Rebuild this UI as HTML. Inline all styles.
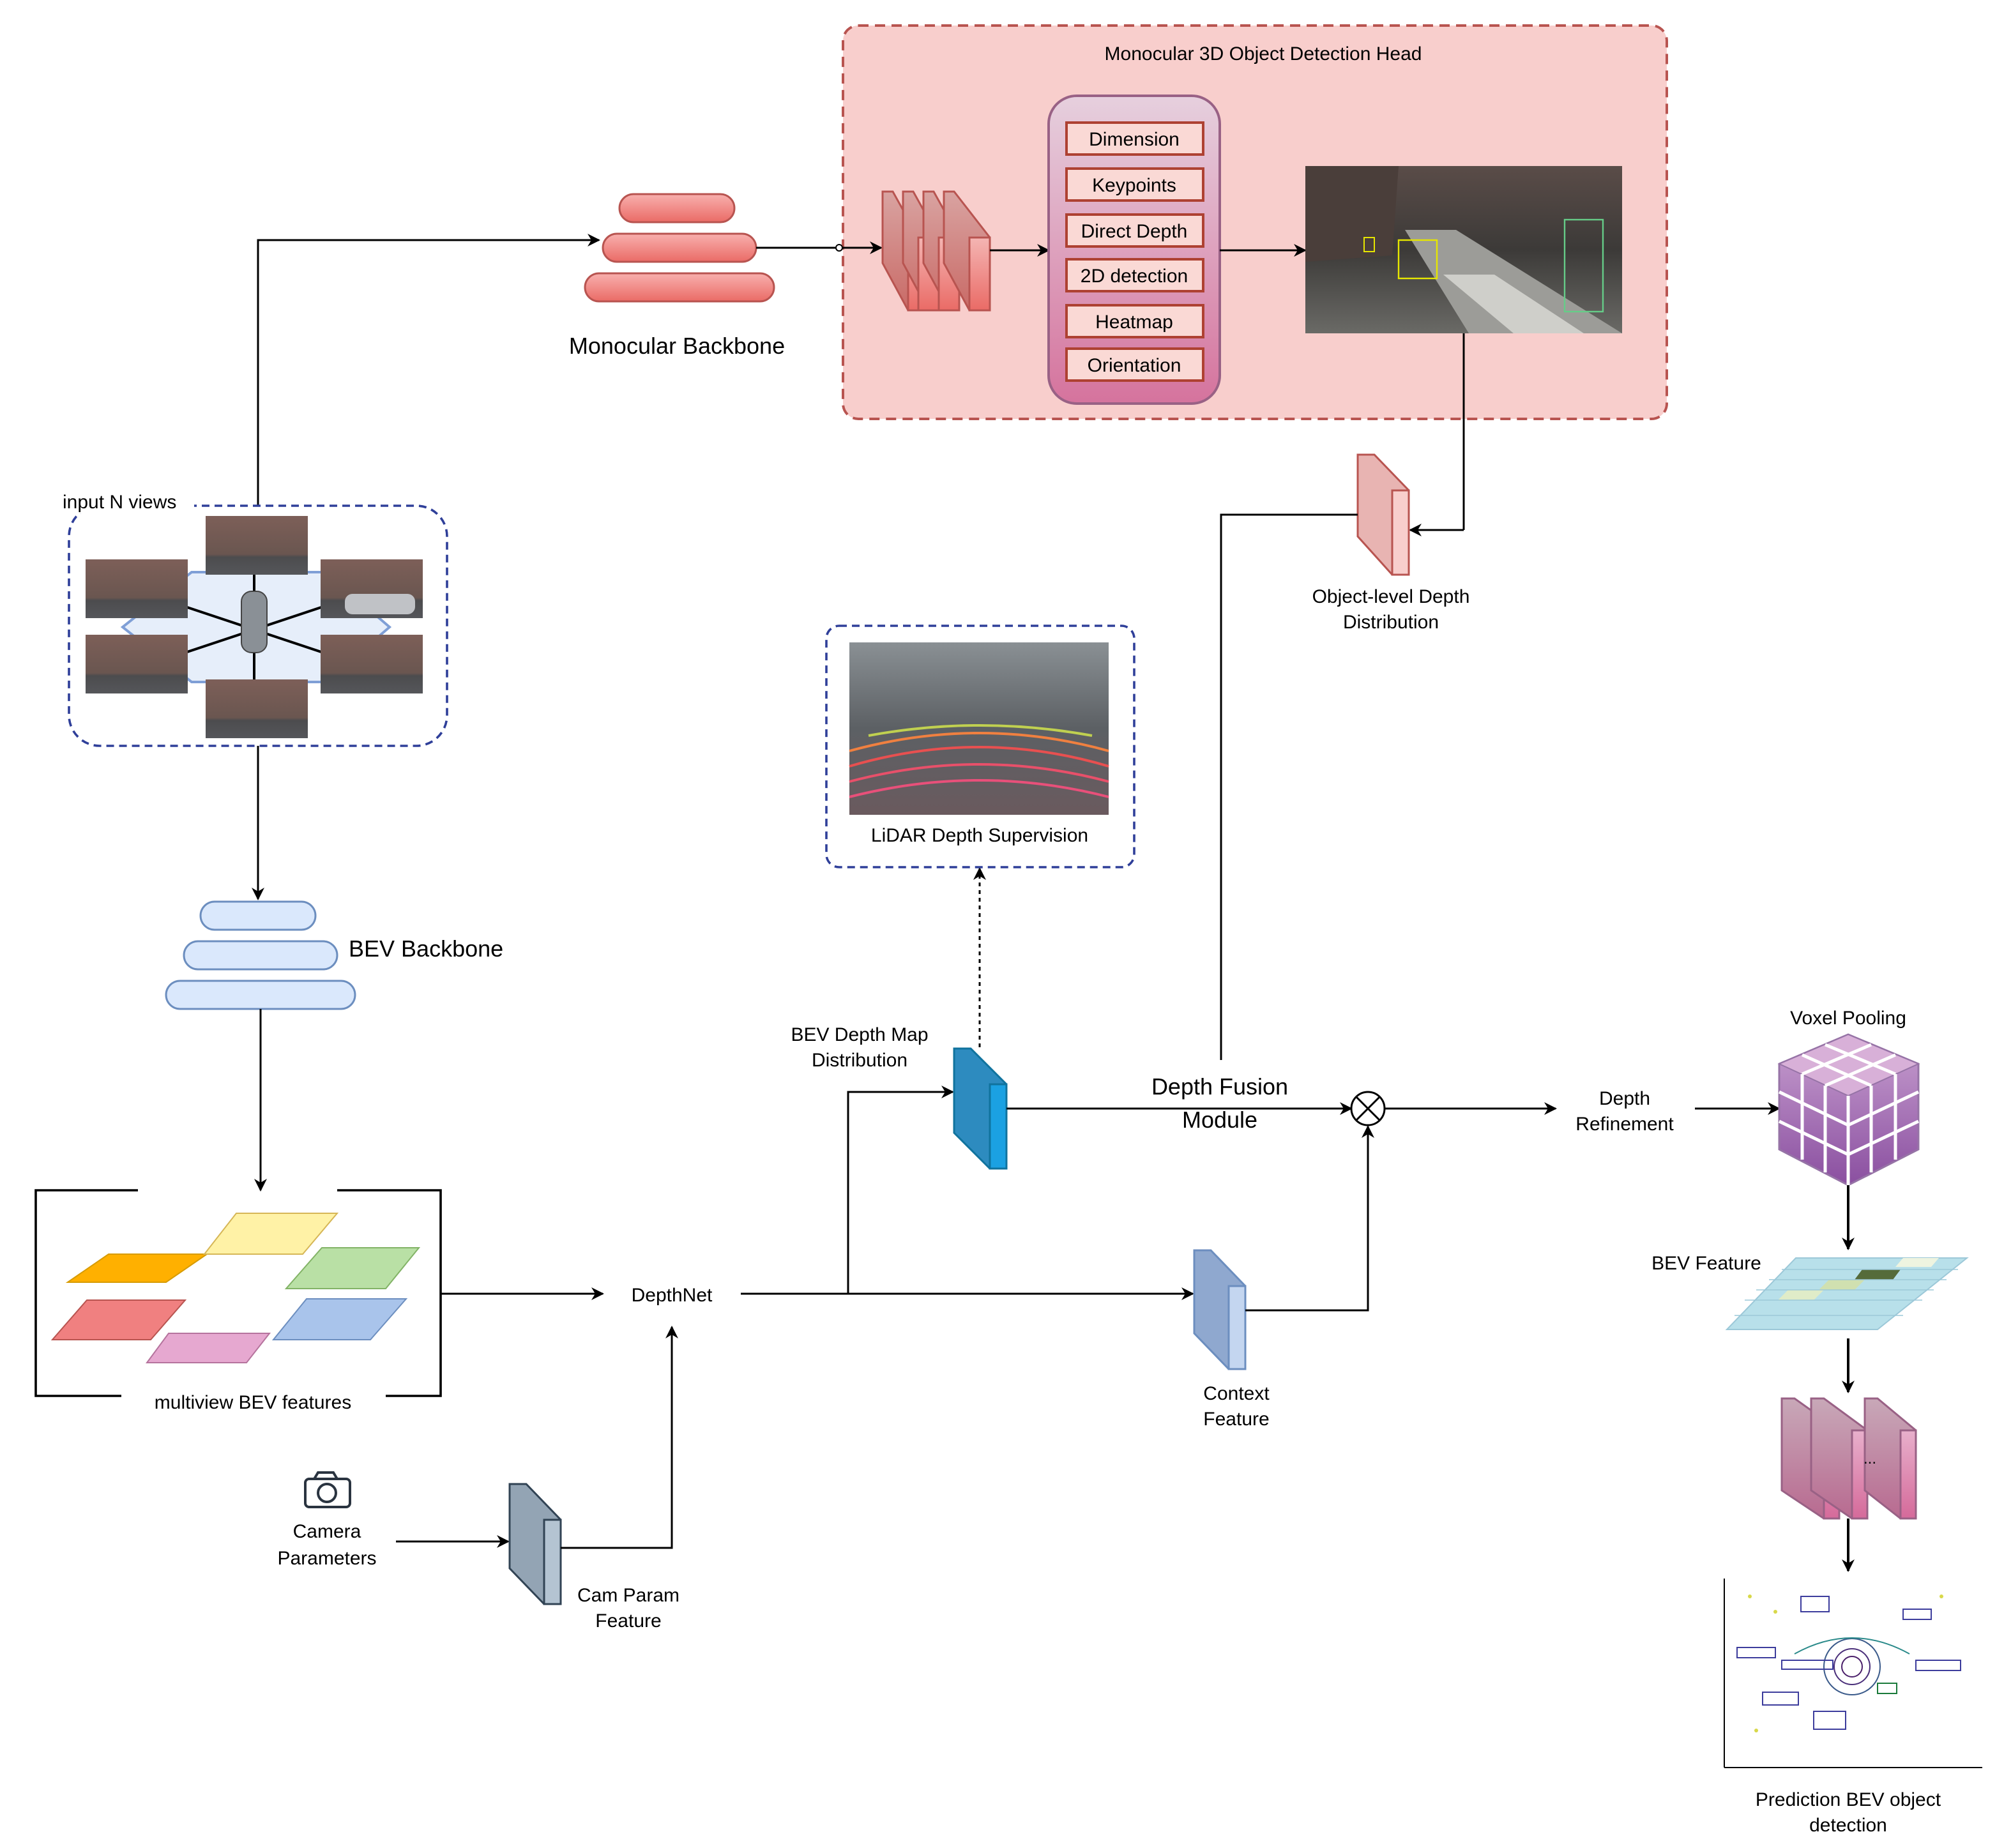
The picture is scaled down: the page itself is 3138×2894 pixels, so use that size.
<!DOCTYPE html>
<html><head><meta charset="utf-8"><style>html,body{margin:0;padding:0;background:#fff}svg{display:block}text{font-family:"Liberation Sans",sans-serif;fill:#000}</style></head>
<body>
<svg width="3138" height="2894" viewBox="0 0 1569 1447" xmlns="http://www.w3.org/2000/svg">
<defs>
<marker id="ar" markerWidth="10" markerHeight="10" refX="9" refY="5" orient="auto" markerUnits="userSpaceOnUse"><path d="M0,0 L10,5 L0,10 L3,5 z" fill="#000"/></marker>
<linearGradient id="redpill" x1="0" y1="0" x2="0" y2="1"><stop offset="0" stop-color="#f8b0ae"/><stop offset="1" stop-color="#ea6b66"/></linearGradient>
<linearGradient id="pinkcol" x1="0" y1="0" x2="0" y2="1"><stop offset="0" stop-color="#e6d0de"/><stop offset="1" stop-color="#d5739d"/></linearGradient>
<linearGradient id="redblk" x1="0" y1="0" x2="0" y2="1"><stop offset="0" stop-color="#f4b5b3"/><stop offset="1" stop-color="#ea6b66"/></linearGradient>
<linearGradient id="redside" x1="0" y1="0" x2="0" y2="1"><stop offset="0" stop-color="#d9a3a1"/><stop offset="1" stop-color="#c96a66"/></linearGradient>
<linearGradient id="street" x1="0" y1="0" x2="0" y2="1"><stop offset="0" stop-color="#5a4c48"/><stop offset="0.5" stop-color="#3c3a38"/><stop offset="1" stop-color="#6a6a66"/></linearGradient>
<linearGradient id="photo" x1="0" y1="0" x2="0" y2="1"><stop offset="0" stop-color="#7d5f58"/><stop offset="0.65" stop-color="#6a5650"/><stop offset="0.7" stop-color="#4c4c4e"/><stop offset="1" stop-color="#55565a"/></linearGradient>
<linearGradient id="lidar" x1="0" y1="0" x2="0" y2="1"><stop offset="0" stop-color="#8a9094"/><stop offset="0.5" stop-color="#5c6064"/><stop offset="1" stop-color="#6a5a5e"/></linearGradient>
<linearGradient id="purp" x1="0" y1="0" x2="0" y2="1"><stop offset="0" stop-color="#c8a0d0"/><stop offset="1" stop-color="#8a4fa0"/></linearGradient>
<linearGradient id="pinkblk" x1="0" y1="0" x2="0" y2="1"><stop offset="0" stop-color="#e8b0cc"/><stop offset="1" stop-color="#d56a9a"/></linearGradient>
<linearGradient id="pinkside" x1="0" y1="0" x2="0" y2="1"><stop offset="0" stop-color="#c8a8b8"/><stop offset="1" stop-color="#b86a90"/></linearGradient>
</defs>

<!-- Mono head box -->
<rect x="660" y="20" width="645" height="308" rx="12" fill="#f8cecc" stroke="#b85450" stroke-width="2" stroke-dasharray="8,5"/>
<text x="989" y="47" font-size="15" text-anchor="middle">Monocular 3D Object Detection Head</text>

<!-- Monocular backbone -->
<rect x="485" y="152" width="90" height="22" rx="11" fill="url(#redpill)" stroke="#b85450" stroke-width="1.5"/>
<rect x="472" y="183" width="120" height="22" rx="11" fill="url(#redpill)" stroke="#b85450" stroke-width="1.5"/>
<rect x="458" y="214" width="148" height="22" rx="11" fill="url(#redpill)" stroke="#b85450" stroke-width="1.5"/>
<text x="530" y="277" font-size="18" text-anchor="middle">Monocular Backbone</text>

<!-- arrows top -->
<polyline points="202,396 202,188 469,188" fill="none" stroke="#000" stroke-width="1.5" marker-end="url(#ar)"/>
<line x1="592" y1="194" x2="690" y2="194" stroke="#000" stroke-width="1.5" marker-end="url(#ar)"/>
<circle cx="657" cy="194" r="2.5" fill="#fff" stroke="#000"/>

<!-- stacked red blocks -->
<g stroke="#b85450" stroke-width="1.5">
<polygon points="691,150 699,150 719,186 719,243 711,243 691,206" fill="url(#redside)"/>
<polygon points="711,186 719,186 719,243 711,243" fill="url(#redblk)"/>
<polygon points="707,150 715,150 735,186 735,243 727,243 707,206" fill="url(#redside)"/>
<polygon points="719,186 735,186 735,243 719,243" fill="url(#redblk)"/>
<polygon points="723,150 731,150 751,186 751,243 743,243 723,206" fill="url(#redside)"/>
<polygon points="735,186 751,186 751,243 735,243" fill="url(#redblk)"/>
<polygon points="739,150 747,150 775,186 775,243 759,243 739,206" fill="url(#redside)"/>
<polygon points="759,186 775,186 775,243 759,243" fill="url(#redblk)"/>
</g>
<line x1="775" y1="196" x2="821" y2="196" stroke="#000" stroke-width="1.5" marker-end="url(#ar)"/>

<!-- pink column -->
<rect x="821" y="75" width="134" height="241" rx="22" fill="url(#pinkcol)" stroke="#996185" stroke-width="2"/>
<g fill="#fad9d5" stroke="#ae4132" stroke-width="2">
<rect x="835" y="96" width="107" height="25"/><rect x="835" y="132" width="107" height="25"/>
<rect x="835" y="168" width="107" height="25"/><rect x="835" y="203" width="107" height="25"/>
<rect x="835" y="239" width="107" height="25"/><rect x="835" y="273" width="107" height="25"/>
</g>
<g font-size="15" text-anchor="middle">
<text x="888" y="114">Dimension</text><text x="888" y="150">Keypoints</text>
<text x="888" y="186">Direct Depth</text><text x="888" y="221">2D detection</text>
<text x="888" y="257">Heatmap</text><text x="888" y="291">Orientation</text>
</g>
<line x1="955" y1="196" x2="1022" y2="196" stroke="#000" stroke-width="1.5" marker-end="url(#ar)"/>

<!-- KITTI image -->
<rect x="1022" y="130" width="248" height="131" fill="url(#street)"/>
<polygon points="1022,130 1095,130 1090,200 1022,205" fill="#4a3e3a"/>
<polygon points="1100,180 1140,180 1270,261 1150,261" fill="#9c9c98"/>
<polygon points="1130,215 1170,215 1240,261 1185,261" fill="#cfcfca"/>
<rect x="1095" y="188" width="30" height="30" fill="none" stroke="#e6e600" stroke-width="1.2"/>
<rect x="1068" y="186" width="8" height="11" fill="none" stroke="#e6e600" stroke-width="1"/>
<rect x="1225" y="172" width="30" height="72" fill="none" stroke="#66cc88" stroke-width="1.2"/>
<line x1="1146" y1="261" x2="1146" y2="415" stroke="#000" stroke-width="1.5"/>
<line x1="1146" y1="415" x2="1104" y2="415" stroke="#000" stroke-width="1.5" marker-end="url(#ar)"/>

<!-- Object-level depth block -->
<g stroke="#b85450" stroke-width="1.5">
<polygon points="1063,356 1076,356 1103,384 1103,450 1090,450 1063,420" fill="#e8b4b2"/>
<rect x="1090" y="384" width="13" height="66" fill="#f8cecc"/>
</g>
<text x="1089" y="472" font-size="15" text-anchor="middle">Object-level Depth</text>
<text x="1089" y="492" font-size="15" text-anchor="middle">Distribution</text>
<polyline points="1063,403 956,403 956,830" fill="none" stroke="#000" stroke-width="1.5"/>

<!-- input N views -->
<rect x="54" y="396" width="296" height="188" rx="24" fill="none" stroke="#2f3f99" stroke-width="1.8" stroke-dasharray="6,4"/>
<rect x="44" y="382" width="108" height="20" fill="#fff"/>
<text x="49" y="398" font-size="15">input N views</text>
<polygon points="150,448 255,448 305,491 255,534 150,534 96,491" fill="#e6eefa" stroke="#7f9fd6" stroke-width="2"/>
<g stroke="#000" stroke-width="2">
<line x1="199" y1="420" x2="199" y2="560"/><line x1="130" y1="470" x2="268" y2="516"/><line x1="130" y1="516" x2="268" y2="470"/>
</g>
<rect x="189" y="463" width="20" height="48" rx="8" fill="#8a9096" stroke="#444"/>
<rect x="161" y="404" width="80" height="46" fill="url(#photo)"/>
<rect x="67" y="438" width="80" height="46" fill="url(#photo)"/>
<rect x="251" y="438" width="80" height="46" fill="url(#photo)"/>
<rect x="67" y="497" width="80" height="46" fill="url(#photo)"/>
<rect x="251" y="497" width="80" height="46" fill="url(#photo)"/>
<rect x="161" y="532" width="80" height="46" fill="url(#photo)"/>
<rect x="270" y="465" width="55" height="16" rx="6" fill="#c0c2c6"/>
<line x1="202" y1="584" x2="202" y2="704" stroke="#000" stroke-width="1.5" marker-end="url(#ar)"/>

<!-- BEV backbone -->
<g fill="#dae8fc" stroke="#6c8ebf" stroke-width="1.5">
<rect x="157" y="706" width="90" height="22" rx="11"/><rect x="144" y="737" width="120" height="22" rx="11"/><rect x="130" y="768" width="148" height="22" rx="11"/>
</g>
<text x="273" y="749" font-size="18">BEV Backbone</text>
<line x1="204" y1="790" x2="204" y2="932" stroke="#000" stroke-width="1.5" marker-end="url(#ar)"/>

<!-- multiview bracket -->
<g stroke="#000" stroke-width="1.8" fill="none">
<polyline points="108,932 28,932 28,1093 95,1093"/>
<polyline points="264,932 345,932 345,1093 302,1093"/>
</g>
<polygon points="85,982 162,982 130,1004 53,1004" fill="#ffb000" stroke="#d79b00"/>
<polygon points="185,950 264,950 237,982 160,982" fill="#fff2a6" stroke="#d6b656"/>
<polygon points="252,977 328,977 302,1009 224,1009" fill="#b9e0a5" stroke="#82b366"/>
<polygon points="68,1018 145,1018 118,1049 41,1049" fill="#f08080" stroke="#b85450"/>
<polygon points="240,1017 318,1017 290,1049 214,1049" fill="#a9c4eb" stroke="#6c8ebf"/>
<polygon points="132,1044 211,1044 193,1067 115,1067" fill="#e6a8d0" stroke="#b5739d"/>
<text x="198" y="1103" font-size="15" text-anchor="middle">multiview BEV features</text>
<line x1="345" y1="1013" x2="472" y2="1013" stroke="#000" stroke-width="1.5" marker-end="url(#ar)"/>
<text x="526" y="1019" font-size="15" text-anchor="middle">DepthNet</text>

<!-- camera -->
<g stroke="#2a3440" stroke-width="2" fill="none">
<rect x="239" y="1158" width="35" height="22" rx="3"/><circle cx="256" cy="1169" r="7"/><path d="M246,1158 l3,-5 h12 l3,5"/>
</g>
<text x="256" y="1204" font-size="15" text-anchor="middle">Camera</text>
<text x="256" y="1225" font-size="15" text-anchor="middle">Parameters</text>
<line x1="310" y1="1207" x2="398" y2="1207" stroke="#000" stroke-width="1.5" marker-end="url(#ar)"/>
<g stroke="#314354" stroke-width="1.5">
<polygon points="399,1162 412,1162 439,1190 439,1256 426,1256 399,1228" fill="#93a4b4"/>
<rect x="426" y="1190" width="13" height="66" fill="#b4c4d2"/>
</g>
<text x="492" y="1254" font-size="15" text-anchor="middle">Cam Param</text>
<text x="492" y="1274" font-size="15" text-anchor="middle">Feature</text>
<polyline points="439,1212 526,1212 526,1039" fill="none" stroke="#000" stroke-width="1.5" marker-end="url(#ar)"/>

<!-- DepthNet outputs -->
<line x1="580" y1="1013" x2="934" y2="1013" stroke="#000" stroke-width="1.5" marker-end="url(#ar)"/>
<polyline points="664,1013 664,855 746,855" fill="none" stroke="#000" stroke-width="1.5" marker-end="url(#ar)"/>
<g stroke="#10739e" stroke-width="1.5">
<polygon points="747,821 760,821 788,849 788,915 775,915 747,887" fill="#2d8bbf"/>
<rect x="775" y="849" width="13" height="66" fill="#1ba1e2"/>
</g>
<text x="673" y="815" font-size="15" text-anchor="middle">BEV Depth Map</text>
<text x="673" y="835" font-size="15" text-anchor="middle">Distribution</text>
<line x1="767" y1="820" x2="767" y2="680" stroke="#000" stroke-width="1.5" stroke-dasharray="3,3" marker-end="url(#ar)"/>

<!-- LiDAR -->
<rect x="647" y="490" width="241" height="189" rx="10" fill="none" stroke="#2f3f99" stroke-width="1.8" stroke-dasharray="6,4"/>
<rect x="665" y="503" width="203" height="135" fill="url(#lidar)"/>
<g stroke-width="2" fill="none">
<path d="M665,600 Q767,570 868,600" stroke="#e85050"/>
<path d="M665,612 Q767,585 868,612" stroke="#e8506a"/>
<path d="M665,624 Q767,598 868,624" stroke="#e8507a"/>
<path d="M665,588 Q767,560 868,588" stroke="#f08040"/>
<path d="M680,576 Q767,560 855,576" stroke="#c0d050"/>
</g>
<text x="767" y="659" font-size="15" text-anchor="middle">LiDAR Depth Supervision</text>

<!-- fusion -->
<line x1="788" y1="868" x2="1058" y2="868" stroke="#000" stroke-width="1.5" marker-end="url(#ar)"/>
<rect x="895" y="838" width="122" height="50" fill="#fff" opacity="0"/>
<text x="955" y="857" font-size="18" text-anchor="middle">Depth Fusion</text>
<text x="955" y="883" font-size="18" text-anchor="middle">Module</text>
<circle cx="1071" cy="868" r="13" fill="#fff" stroke="#000" stroke-width="1.5"/>
<line x1="1062" y1="859" x2="1080" y2="877" stroke="#000" stroke-width="1.5"/>
<line x1="1080" y1="859" x2="1062" y2="877" stroke="#000" stroke-width="1.5"/>

<g stroke="#6c8ebf" stroke-width="1.5">
<polygon points="935,979 948,979 975,1007 975,1072 962,1072 935,1044" fill="#8fa8cf"/>
<rect x="962" y="1007" width="13" height="65" fill="#c4d6f0"/>
</g>
<polyline points="975,1026 1071,1026 1071,882" fill="none" stroke="#000" stroke-width="1.5" marker-end="url(#ar)"/>
<text x="968" y="1096" font-size="15" text-anchor="middle">Context</text>
<text x="968" y="1116" font-size="15" text-anchor="middle">Feature</text>

<line x1="1084" y1="868" x2="1218" y2="868" stroke="#000" stroke-width="1.5" marker-end="url(#ar)"/>
<text x="1272" y="865" font-size="15" text-anchor="middle">Depth</text>
<text x="1272" y="885" font-size="15" text-anchor="middle">Refinement</text>
<line x1="1327" y1="868" x2="1393" y2="868" stroke="#000" stroke-width="1.5" marker-end="url(#ar)"/>

<!-- voxel -->
<text x="1447" y="802" font-size="15" text-anchor="middle">Voxel Pooling</text>
<polygon points="1393,833 1447,810 1502,833 1502,900 1447,928 1393,900" fill="url(#purp)" stroke="#9673a6" stroke-width="1.5"/>
<polygon points="1393,833 1447,810 1502,833 1447,858" fill="#d8b0d8" stroke="#9673a6"/>
<g stroke="#fff" stroke-width="2.5">
<line x1="1447" y1="858" x2="1447" y2="928"/>
<line x1="1411" y1="841" x2="1411" y2="908"/><line x1="1429" y1="850" x2="1429" y2="918"/>
<line x1="1465" y1="850" x2="1465" y2="918"/><line x1="1484" y1="841" x2="1484" y2="908"/>
<line x1="1393" y1="855" x2="1447" y2="881"/><line x1="1393" y1="878" x2="1447" y2="904"/>
<line x1="1447" y1="881" x2="1502" y2="855"/><line x1="1447" y1="904" x2="1502" y2="878"/>
<line x1="1411" y1="826" x2="1465" y2="850"/><line x1="1429" y1="818" x2="1484" y2="841"/>
<line x1="1465" y1="818" x2="1411" y2="841"/><line x1="1484" y1="826" x2="1429" y2="850"/>
</g>
<line x1="1447" y1="928" x2="1447" y2="978" stroke="#000" stroke-width="2" marker-end="url(#ar)"/>

<!-- BEV feature grid -->
<text x="1336" y="994" font-size="15" text-anchor="middle">BEV Feature</text>
<polygon points="1406,985 1540,985 1470,1041 1352,1041" fill="#b8e0ea" stroke="#9cc8d8"/>
<polygon points="1458,994 1488,994 1482,1002 1452,1002" fill="#556b3a"/>
<polygon points="1432,1002 1460,1002 1452,1010 1424,1010" fill="#d0e0b0"/>
<polygon points="1400,1010 1428,1010 1420,1018 1392,1018" fill="#e0ecc8"/>
<polygon points="1490,985 1518,985 1512,992 1484,992" fill="#eef4e0"/>
<g stroke="#9cc8d8" stroke-width="0.8">
<line x1="1395" y1="994" x2="1533" y2="994"/><line x1="1385" y1="1002" x2="1524" y2="1002"/><line x1="1375" y1="1010" x2="1514" y2="1010"/><line x1="1366" y1="1018" x2="1505" y2="1018"/><line x1="1358" y1="1030" x2="1490" y2="1030"/>
</g>
<line x1="1447" y1="1048" x2="1447" y2="1090" stroke="#000" stroke-width="2" marker-end="url(#ar)"/>

<!-- pink blocks -->
<g stroke="#996185" stroke-width="1.5">
<polygon points="1395,1095 1405,1095 1440,1120 1440,1189 1428,1189 1395,1167" fill="url(#pinkside)"/>
<rect x="1428" y="1120" width="12" height="69" fill="url(#pinkblk)"/>
<polygon points="1418,1095 1428,1095 1462,1120 1462,1189 1450,1189 1418,1167" fill="url(#pinkside)"/>
<rect x="1440" y="1120" width="22" height="69" fill="url(#pinkblk)" opacity="0"/>
<rect x="1450" y="1120" width="12" height="69" fill="url(#pinkblk)"/>
<polygon points="1460,1095 1470,1095 1500,1120 1500,1189 1488,1189 1460,1167" fill="url(#pinkside)"/>
<rect x="1488" y="1120" width="12" height="69" fill="url(#pinkblk)"/>
</g>
<text x="1464" y="1146" font-size="12" text-anchor="middle">...</text>
<line x1="1447" y1="1189" x2="1447" y2="1230" stroke="#000" stroke-width="2" marker-end="url(#ar)"/>

<!-- BEV plot -->
<rect x="1337" y="1232" width="215" height="155" fill="#fff"/>
<line x1="1350" y1="1236" x2="1350" y2="1384" stroke="#000"/>
<line x1="1350" y1="1384" x2="1552" y2="1384" stroke="#000"/>
<g fill="none" stroke="#3c3c9c" stroke-width="1">
<circle cx="1450" cy="1305" r="8" stroke="#4a1f6a"/><circle cx="1450" cy="1305" r="14" stroke="#4a2f7a"/><circle cx="1450" cy="1305" r="22" stroke="#3a5a8a"/>
<path d="M1405,1295 Q1450,1270 1495,1295" stroke="#2a8a8a"/>
<rect x="1360" y="1290" width="30" height="8"/><rect x="1395" y="1300" width="40" height="7"/><rect x="1410" y="1250" width="22" height="12"/>
<rect x="1380" y="1325" width="28" height="10"/><rect x="1420" y="1340" width="25" height="14"/><rect x="1490" y="1260" width="22" height="8"/>
<rect x="1500" y="1300" width="35" height="8"/><rect x="1470" y="1318" width="15" height="8" stroke="#1a7a3a"/>
</g>
<g fill="#d8d84a"><circle cx="1370" cy="1250" r="1.5"/><circle cx="1390" cy="1262" r="1.5"/><circle cx="1520" cy="1250" r="1.5"/><circle cx="1375" cy="1355" r="1.5"/></g>
<text x="1447" y="1414" font-size="15" text-anchor="middle">Prediction BEV object</text>
<text x="1447" y="1434" font-size="15" text-anchor="middle">detection</text>
</svg>
</body></html>
